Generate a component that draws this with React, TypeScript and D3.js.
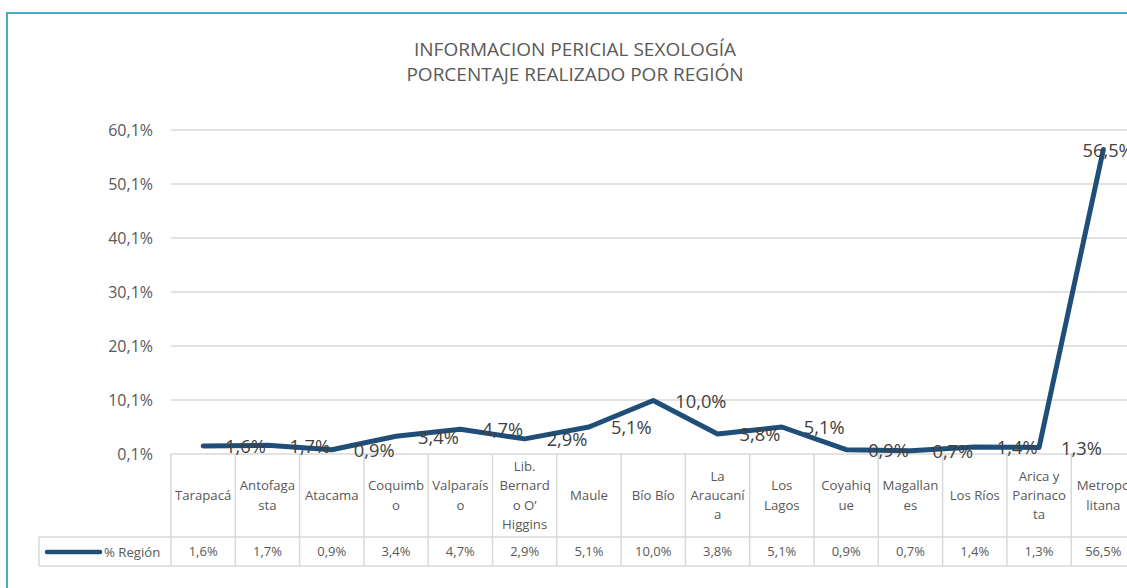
import React from "react";
import * as d3 from "d3";

const titleLines = ["INFORMACION PERICIAL SEXOLOGÍA", "PORCENTAJE REALIZADO POR REGIÓN"];
const categories = [
  "Tarapacá", "Antofagasta", "Atacama", "Coquimbo", "Valparaíso",
  "Lib. Bernardo O’ Higgins", "Maule", "Bío Bío", "La Araucanía", "Los Lagos",
  "Coyahique", "Magallanes", "Los Ríos", "Arica y Parinacota", "Metropolitana",
];
const categoryLines = [
  ["Tarapacá"], ["Antofaga", "sta"], ["Atacama"], ["Coquimb", "o"], ["Valparaís", "o"],
  ["Lib.", "Bernard", "o O’", "Higgins"], ["Maule"], ["Bío Bío"], ["La", "Araucaní", "a"], ["Los", "Lagos"],
  ["Coyahiq", "ue"], ["Magallan", "es"], ["Los Ríos"], ["Arica y", "Parinaco", "ta"], ["Metropo", "litana"],
];
const values = [1.6, 1.7, 0.9, 3.4, 4.7, 2.9, 5.1, 10.0, 3.8, 5.1, 0.9, 0.7, 1.4, 1.3, 56.5];
const yTicks = [0.1, 10.1, 20.1, 30.1, 40.1, 50.1, 60.1];
const seriesName = "% Región";

const fmt = (v: number) => v.toFixed(1).replace(".", ",") + "%";

export default function App() {
  const W = 1127, H = 588;
  const plotL = 171, plotR = 1135.5;
  const top = 130, bottom = 454;
  const catRowBottom = 537, valRowBottom = 566, legendL = 39;
  const font = "'Open Sans', 'Noto Sans', sans-serif";
  const grid = "#d9d9d9";
  const lineColor = "#1F4E79";

  const x = d3.scaleBand<number>().domain(d3.range(categories.length)).range([plotL, plotR]);
  const y = d3.scaleLinear().domain([0.1, 60.1]).range([bottom, top]);
  const cx = (i: number) => (x(i) as number) + x.bandwidth() / 2;

  const line = d3.line<number>().x((_, i) => cx(i)).y((d) => y(d));

  return (
    <svg width={W} height={H} style={{ position: "absolute", left: 0, top: 0, background: "#fff" }}>
      <rect x={7} y={13} width={1140} height={600} fill="#fff" stroke="#4BACC6" strokeWidth={2} />
      {titleLines.map((t, i) => (
        <text key={i} x={575} y={56 + i * 25} textAnchor="middle" fontFamily={font} fontSize={19} fill="#595959">{t}</text>
      ))}
      {yTicks.map((t) => (
        <g key={t}>
          {t !== 0.1 && <line x1={plotL} x2={plotR} y1={y(t)} y2={y(t)} stroke={grid} strokeWidth={1.5} />}
          <text x={153} y={y(t)} dy="0.35em" textAnchor="end" fontFamily={font} fontSize={16} fill="#595959">{fmt(t)}</text>
        </g>
      ))}
      {/* data table */}
      <line x1={plotL} x2={plotR} y1={bottom} y2={bottom} stroke={grid} strokeWidth={1.5} />
      <line x1={legendL} x2={plotR} y1={catRowBottom} y2={catRowBottom} stroke={grid} strokeWidth={1.5} />
      <line x1={legendL} x2={plotR} y1={valRowBottom} y2={valRowBottom} stroke={grid} strokeWidth={1.5} />
      <line x1={legendL} x2={legendL} y1={catRowBottom} y2={valRowBottom} stroke={grid} strokeWidth={1.5} />
      {categories.map((c, i) => (
        <line key={c} x1={x(i) as number} x2={x(i) as number} y1={bottom} y2={valRowBottom} stroke={grid} strokeWidth={1.5} />
      ))}
      {categoryLines.map((ls, i) => (
        <text key={i} textAnchor="middle" fontFamily={font} fontSize={13.2} fill="#595959">
          {ls.map((l, j) => (
            <tspan key={j} x={cx(i)} y={(bottom + catRowBottom) / 2 + (j - (ls.length - 1) / 2) * 19.3} dy="0.35em">{l}</tspan>
          ))}
        </text>
      ))}
      {values.map((v, i) => (
        <text key={i} x={cx(i)} y={(catRowBottom + valRowBottom) / 2} dy="0.35em" textAnchor="middle" fontFamily={font} fontSize={13} fill="#595959">{fmt(v)}</text>
      ))}
      <line x1={47} x2={100} y1={552} y2={552} stroke={lineColor} strokeWidth={4.5} strokeLinecap="round" />
      <text x={104} y={552} dy="0.35em" fontFamily={font} fontSize={13.2} fill="#595959">{seriesName}</text>
      {/* series */}
      <path d={line(values) || ""} fill="none" stroke={lineColor} strokeWidth={5} strokeLinecap="round" strokeLinejoin="round" />
      {values.map((v, i) => (
        <text key={i} x={Math.min(cx(i) + 22, plotR - 53)} y={y(v)} dy="0.4em" fontFamily={font} fontSize={18.3} fill="#404040">{fmt(v)}</text>
      ))}
    </svg>
  );
}
